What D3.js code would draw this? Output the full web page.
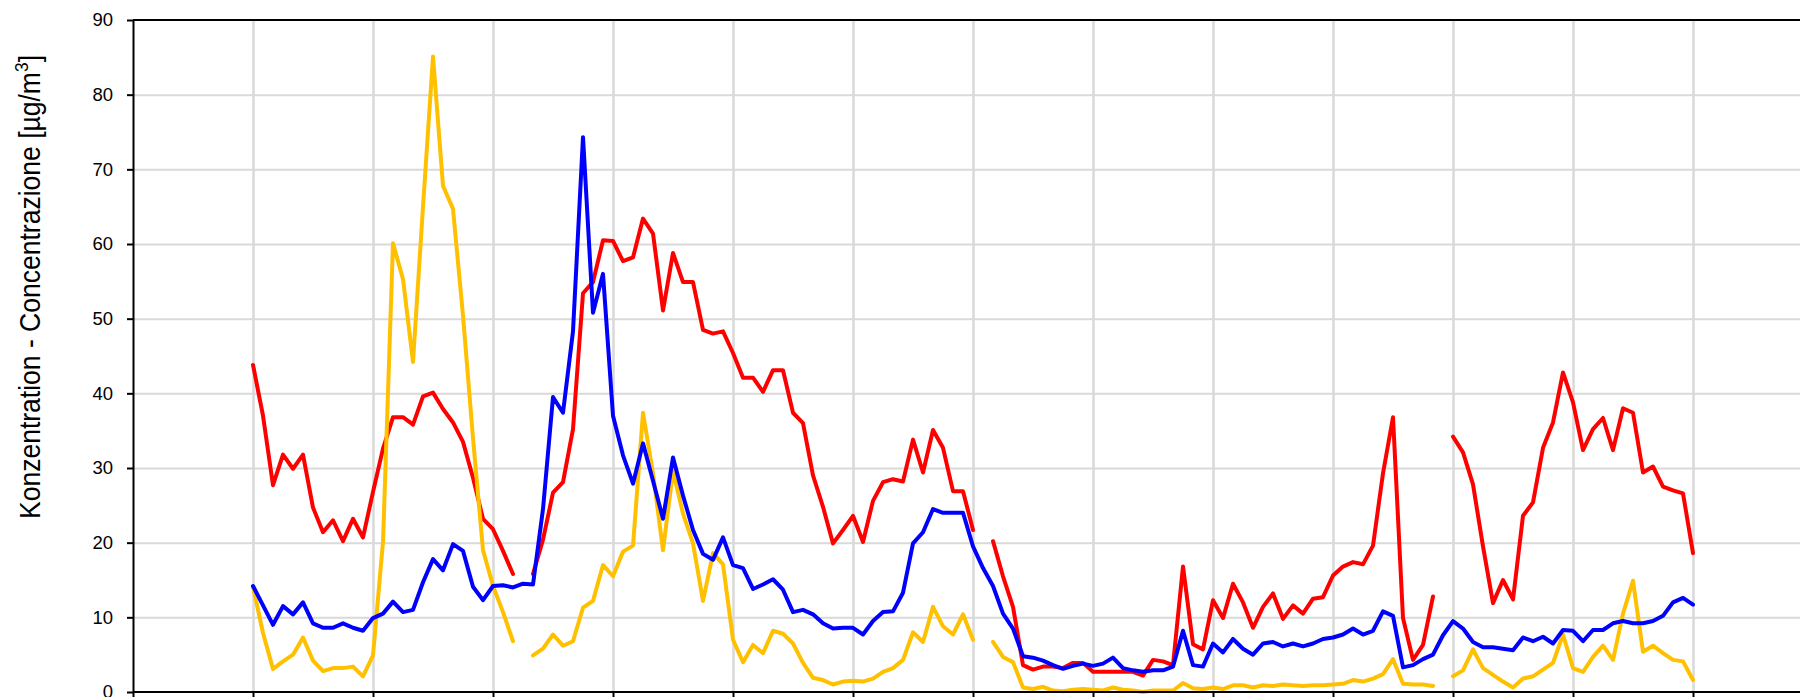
<!DOCTYPE html>
<html>
<head>
  <meta charset="utf-8">
  <title>Konzentration</title>
  <script src="https://cdn.jsdelivr.net/npm/d3@7/dist/d3.min.js"></script>
  <style>
    body { margin: 0; background: #fff; }
    text { font-family: "Liberation Sans", Arial, sans-serif; }
  </style>
</head>
<body>
<script>
  let width = 1800;
  let height = 697;

  // Werte pro Monat (null = keine Messung)
  let rot = [
    43.8, 37.0, 27.7, 31.8, 29.9, 31.8, 24.7, 21.4, 23.0, 20.2, 23.2, 20.7,
    26.8, 32.6, 36.8, 36.8, 35.8, 39.6, 40.1, 37.9, 36.1, 33.5, 28.7, 23.2,
    21.8, 18.9, 15.8, null, 15.8, 20.4, 26.7, 28.1, 35.2, 53.4, 54.9, 60.5,
    60.4, 57.7, 58.2, 63.4, 61.4, 51.1, 58.8, 54.9, 54.9, 48.5, 48.0, 48.3,
    45.4, 42.1, 42.1, 40.2, 43.1, 43.1, 37.4, 36.0, 29.0, 24.8, 19.9, 21.7,
    23.6, 20.1, 25.6, 28.1, 28.5, 28.2, 33.8, 29.4, 35.1, 32.7, 26.9, 26.9,
    21.7, null, 20.2, 15.5, 11.4, 3.6, 3.0, 3.4, 3.4, 3.2, 3.9, 3.9,
    2.7, 2.7, 2.7, 2.7, 2.7, 2.2, 4.3, 4.1, 3.6, 16.8, 6.4, 5.7,
    12.3, 9.9, 14.5, 12.0, 8.6, 11.4, 13.2, 9.8, 11.6, 10.5, 12.5, 12.7,
    15.6, 16.8, 17.4, 17.1, 19.6, 29.3, 36.8, 9.9, 4.3, 6.3, 12.8, null,
    34.2, 32.1, 27.8, 19.5, 11.9, 15.0, 12.4, 23.6, 25.4, 32.7, 36.1, 42.8,
    38.8, 32.4, 35.2, 36.7, 32.4, 38.0, 37.4, 29.4, 30.2, 27.5, 27.0, 26.6,
    18.6
  ];

  let blau = [
    14.2, 11.6, 9.0, 11.5, 10.4, 12.0, 9.2, 8.6, 8.6, 9.2, 8.6, 8.2,
    9.9, 10.5, 12.1, 10.7, 11.0, 14.7, 17.8, 16.3, 19.8, 18.9, 14.1, 12.3,
    14.2, 14.3, 14.0, 14.5, 14.4, 24.5, 39.5, 37.4, 48.3, 74.3, 50.8, 56.0,
    37.0, 31.7, 27.9, 33.3, 28.3, 23.2, 31.4, 26.3, 21.7, 18.5, 17.7, 20.7,
    17.0, 16.6, 13.8, 14.4, 15.1, 13.7, 10.7, 11.0, 10.4, 9.2, 8.5, 8.6,
    8.6, 7.7, 9.5, 10.7, 10.8, 13.3, 19.9, 21.4, 24.5, 24.0, 24.0, 24.0,
    19.5, 16.6, 14.2, 10.5, 8.5, 4.8, 4.6, 4.2, 3.6, 3.1, 3.5, 3.8,
    3.5, 3.8, 4.6, 3.2, 2.9, 2.7, 2.9, 2.9, 3.4, 8.2, 3.6, 3.4,
    6.5, 5.3, 7.1, 5.8, 5.0, 6.5, 6.7, 6.1, 6.5, 6.1, 6.5, 7.1,
    7.3, 7.7, 8.5, 7.7, 8.2, 10.8, 10.2, 3.3, 3.6, 4.4, 5.0, 7.6,
    9.5, 8.5, 6.7, 6.0, 6.0, 5.8, 5.6, 7.3, 6.8, 7.4, 6.5, 8.3,
    8.2, 6.8, 8.3, 8.3, 9.2, 9.5, 9.2, 9.2, 9.5, 10.2, 12.0, 12.6,
    11.7
  ];

  let gelb = [
    14.1, 7.9, 3.1, 4.1, 5.0, 7.3, 4.2, 2.8, 3.2, 3.2, 3.4, 2.1,
    4.9, 20.1, 60.1, 55.3, 44.2, 65.0, 85.1, 67.8, 64.7, 50.4, 34.0, 19.0,
    14.2, 10.7, 6.8, null, 4.9, 5.8, 7.7, 6.2, 6.8, 11.3, 12.2, 17.0,
    15.5, 18.8, 19.6, 37.4, 29.3, 19.0, 29.6, 23.9, 19.9, 12.2, 18.6, 17.1,
    7.0, 4.0, 6.3, 5.2, 8.2, 7.8, 6.5, 3.9, 1.9, 1.6, 1.0, 1.4,
    1.5, 1.4, 1.8, 2.7, 3.2, 4.3, 8.0, 6.7, 11.4, 8.8, 7.7, 10.4,
    7.0, null, 6.7, 4.7, 4.0, 0.6, 0.4, 0.7, 0.2, 0.1, 0.3, 0.4,
    0.3, 0.2, 0.6, 0.3, 0.2, 0.0, 0.2, 0.2, 0.2, 1.2, 0.5, 0.4,
    0.6, 0.4, 0.9, 0.9, 0.6, 0.9, 0.8, 1.0, 0.9, 0.8, 0.9, 0.9,
    1.0, 1.1, 1.6, 1.4, 1.8, 2.4, 4.4, 1.1, 1.0, 1.0, 0.8, null,
    2.1, 2.9, 5.7, 3.2, 2.3, 1.4, 0.6, 1.8, 2.1, 3.0, 3.9, 7.7,
    3.2, 2.7, 4.7, 6.2, 4.3, 10.5, 14.9, 5.4, 6.2, 5.2, 4.3, 4.1,
    1.6
  ];

  let yTicks = [0, 10, 20, 30, 40, 50, 60, 70, 80, 90];
  let xTicks = [-12, 0, 12, 24, 36, 48, 60, 72, 84, 96, 108, 120, 132, 144, 156];
  let titel = 'Konzentration - Concentrazione [µg/m';

  let gauche = 133;
  let haut = 20;
  let bas = 692;

  let svg = d3.select('body').append('svg')
    .attr('width', width)
    .attr('height', height);

  let x = d3.scaleLinear()
    .domain([-12, 156])
    .range([gauche, gauche + 168 * 10]);

  let y = d3.scaleLinear()
    .domain([0, 90])
    .range([bas, haut]);

  // grille horizontale
  svg.append('g')
    .attr('transform', `translate(${gauche},0)`)
    .call(d3.axisLeft(y).tickValues(yTicks.slice(1, -1)).tickSize(-(width - gauche)).tickFormat(''))
    .call(g => g.select('.domain').remove())
    .selectAll('line')
    .attr('stroke', '#d9d9d9')
    .attr('stroke-width', 2);

  // grille verticale
  svg.append('g')
    .attr('transform', `translate(0,${bas})`)
    .call(d3.axisBottom(x).tickValues(xTicks.slice(1)).tickSize(-(bas - haut)).tickFormat(''))
    .call(g => g.select('.domain').remove())
    .selectAll('line')
    .attr('stroke', '#d9d9d9')
    .attr('stroke-width', 2.5);

  // séries
  let ligne = d3.line()
    .defined(d => d != null)
    .x((d, i) => x(i))
    .y(d => y(d));

  let series = [
    { vals: rot, couleur: '#ff0000' },
    { vals: gelb, couleur: '#ffc000' },
    { vals: blau, couleur: '#0000ff' }
  ];

  svg.selectAll('path.serie')
    .data(series)
    .enter()
    .append('path')
    .attr('class', 'serie')
    .attr('fill', 'none')
    .attr('stroke', d => d.couleur)
    .attr('stroke-width', 4)
    .attr('stroke-linejoin', 'round')
    .attr('stroke-linecap', 'round')
    .attr('d', d => ligne(d.vals));

  // axes
  let axeY = svg.append('g')
    .attr('transform', `translate(${gauche},0)`)
    .call(d3.axisLeft(y).tickValues(yTicks).tickSize(6).tickSizeOuter(0).tickPadding(14));
  axeY.selectAll('text')
    .attr('font-size', 18.5)
    .attr('font-family', '"Liberation Sans", Arial, sans-serif')
    .attr('fill', '#000');
  axeY.selectAll('line, path').attr('stroke', '#000').attr('stroke-width', 2);

  let axeX = svg.append('g')
    .attr('transform', `translate(0,${bas})`)
    .call(d3.axisBottom(x).tickValues(xTicks).tickSize(6).tickSizeOuter(0).tickFormat(''));
  axeX.select('.domain').attr('d', `M${gauche},0H${width}`);
  axeX.selectAll('line, path').attr('stroke', '#000').attr('stroke-width', 2);

  svg.append('line')
    .attr('x1', gauche)
    .attr('x2', width)
    .attr('y1', haut)
    .attr('y2', haut)
    .attr('stroke', '#000')
    .attr('stroke-width', 2);

  // titre de l'axe
  let t = svg.append('text')
    .attr('transform', 'translate(40,287) rotate(-90)')
    .attr('text-anchor', 'middle')
    .attr('font-size', 29)
    .attr('textLength', 464)
    .attr('lengthAdjust', 'spacingAndGlyphs')
    .attr('fill', '#000');
  t.append('tspan').text(titel);
  t.append('tspan').attr('dy', -12).attr('font-size', 19).text('3');
  t.append('tspan').attr('dy', 12).text(']');
</script>
</body>
</html>
